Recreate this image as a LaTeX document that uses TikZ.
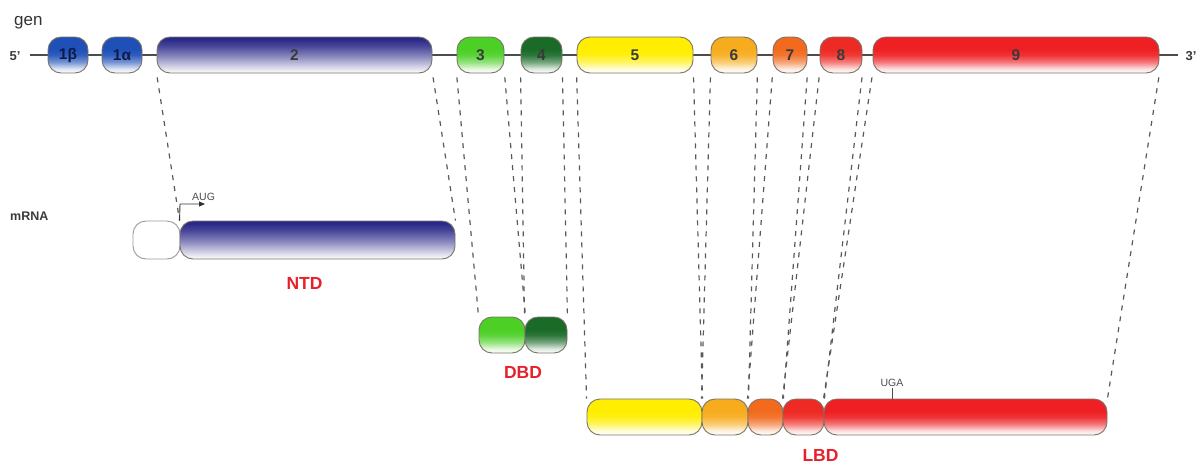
\documentclass[tikz,border=0pt]{standalone}
\usepackage{fontspec}
\setmainfont{Liberation Sans}
\usetikzlibrary{arrows.meta}
\colorlet{exc}{red}
\pgfdeclareverticalshading[exc]{exshade}{100bp}{color(0bp)=(white); color(25bp)=(white); color(31bp)=(exc!15!white); color(40bp)=(exc!60!white); color(50bp)=(exc!92!white); color(58bp)=(exc); color(100bp)=(exc)}
\pgfdeclareverticalshading[exc]{exshadeb}{100bp}{color(0bp)=(white); color(25bp)=(white); color(33bp)=(exc!18!white); color(48bp)=(exc!55!white); color(62bp)=(exc!85!white); color(72bp)=(exc); color(100bp)=(exc)}
\definecolor{cb1}{HTML}{1E50B8}
\definecolor{cb2}{HTML}{2A2888}
\definecolor{cg3}{HTML}{4CD026}
\definecolor{cg4}{HTML}{1A6A28}
\definecolor{cy5}{HTML}{FFEE00}
\definecolor{co6}{HTML}{F7AC1E}
\definecolor{co7}{HTML}{F26A1E}
\definecolor{cr8}{HTML}{EE2A24}
\definecolor{cr9}{HTML}{EE2024}
\definecolor{lblred}{HTML}{E6212B}
\definecolor{edgec}{HTML}{7A7468}
\definecolor{txtc}{HTML}{3A3A3A}
\definecolor{navytxt}{HTML}{0E1A48}
\tikzset{
  exon/.style={/utils/exec={\colorlet{exc}{#1}}, shading=exshade, draw=edgec, line width=0.9pt,
    rounded corners=13pt, minimum height=36pt, inner sep=0pt,
    font=\fontsize{15.5}{15.5}\selectfont\bfseries, text=txtc},
  exonb/.style={/utils/exec={\colorlet{exc}{#1}}, shading=exshadeb, draw=edgec, line width=0.9pt,
    rounded corners=13pt, minimum height=36pt, inner sep=0pt,
    font=\fontsize{15.5}{15.5}\selectfont\bfseries, text=txtc},
  capbox/.style={fill=white, draw=gray!80, line width=0.9pt, rounded corners=13pt, minimum height=38pt, inner sep=0pt},
  mapline/.style={draw=black!65, line width=1.2pt, dash pattern=on 5pt off 6pt, shorten <=4pt},
  domlbl/.style={font=\fontsize{17.5}{17.5}\selectfont\bfseries, text=lblred},
  genline/.style={draw=black!70, line width=1.3pt},
  endlbl/.style={font=\fontsize{13}{13}\selectfont\bfseries, text=txtc},
  smalllbl/.style={font=\fontsize{10.5}{10.5}\selectfont, text=black!70},
}
\begin{document}
\begin{tikzpicture}[x=1pt,y=-1pt]
\useasboundingbox (0,0) rectangle (1197,464);
% labels
\node[anchor=base west, font=\fontsize{17}{17}\selectfont, text=black!80, inner sep=0] (gen) at (14,25) {gen};
\node[anchor=base west, font=\fontsize{12.5}{12.5}\selectfont\bfseries, text=txtc, inner sep=0] (mrna) at (10,220) {mRNA};
% gene line
\coordinate (g5) at (30,55);
\coordinate (g3) at (1178,55);
\draw[genline] (g5) -- (g3);
\node[endlbl, anchor=east] (p5) at (24,56) {5’};
\node[endlbl, anchor=west] (p3) at (1182,56) {3’};
% gene exons
\node[exon=cb1, minimum width=40pt, text=navytxt] (e1b) at (68,55) {1β};
\node[exon=cb1, minimum width=40pt, text=navytxt] (e1a) at (122,55) {1α};
\node[exonb=cb2, minimum width=275pt] (e2) at (294.5,55) {2};
\node[exon=cg3, minimum width=47pt] (e3) at (480.5,55) {3};
\node[exon=cg4, minimum width=41pt] (e4) at (541.5,55) {4};
\node[exon=cy5, minimum width=116pt] (e5) at (635,55) {5};
\node[exon=co6, minimum width=46pt] (e6) at (734,55) {6};
\node[exon=co7, minimum width=34pt] (e7) at (790,55) {7};
\node[exon=cr8, minimum width=42pt] (e8) at (841,55) {8};
\node[exon=cr9, minimum width=286pt] (e9) at (1016,55) {9};
% mRNA
\node[capbox, minimum width=47pt] (cap) at (156.5,240) {};
\node[exonb=cb2, minimum width=275pt, minimum height=38pt] (ntd) at (317.5,240) {};
% DBD
\node[exon=cg3, minimum width=46pt] (d3) at (502,335) {};
\node[exon=cg4, minimum width=42pt] (d4) at (546,335) {};
% LBD
\node[exon=cy5, minimum width=115pt] (l5) at (644.5,417) {};
\node[exon=co6, minimum width=46pt] (l6) at (725,417) {};
\node[exon=co7, minimum width=35pt] (l7) at (765.5,417) {};
\node[exon=cr8, minimum width=41pt] (l8) at (803.5,417) {};
\node[exon=cr9, minimum width=283pt] (l9) at (965.5,417) {};
% mapping lines
\draw[mapline] (e2.south west) -- (ntd.north west);
\draw[mapline] (e2.south east) -- (ntd.north east);
\draw[mapline] (e3.south west) -- (d3.north west);
\draw[mapline] (e3.south east) -- (d3.north east);
\draw[mapline] (e4.south west) -- (d4.north west);
\draw[mapline] (e4.south east) -- (d4.north east);
\draw[mapline] (e5.south west) -- (l5.north west);
\draw[mapline] (e5.south east) -- (l5.north east);
\draw[mapline] (e6.south west) -- (l6.north west);
\draw[mapline] (e6.south east) -- (l6.north east);
\draw[mapline] (e7.south west) -- (l7.north west);
\draw[mapline] (e7.south east) -- (l7.north east);
\draw[mapline] (e8.south west) -- (l8.north west);
\draw[mapline] (e8.south east) -- (l8.north east);
\draw[mapline] (e9.south west) -- (l9.north west);
\draw[mapline] (e9.south east) -- (l9.north east);
% AUG
\coordinate (augc) at (180,204);
\draw[black!80, line width=0.9pt, -{Triangle[length=6pt,width=5pt]}] (ntd.north west) -- (augc) -- ++(25,0);
\node[smalllbl, anchor=base west, inner sep=0] (aug) at (192,200) {AUG};
% UGA
\coordinate (ugac) at (892,388);
\draw[black!70, line width=0.9pt] (ugac) -- (ugac |- l9.north);
\node[smalllbl, anchor=base, inner sep=0] (uga) at (892,386) {UGA};
% domain labels
\node[domlbl] (ntdl) at (304.5,283.5) {NTD};
\node[domlbl] (dbdl) at (523,372.5) {DBD};
\node[domlbl] (lbdl) at (820.5,455.5) {LBD};
\end{tikzpicture}
\end{document}
